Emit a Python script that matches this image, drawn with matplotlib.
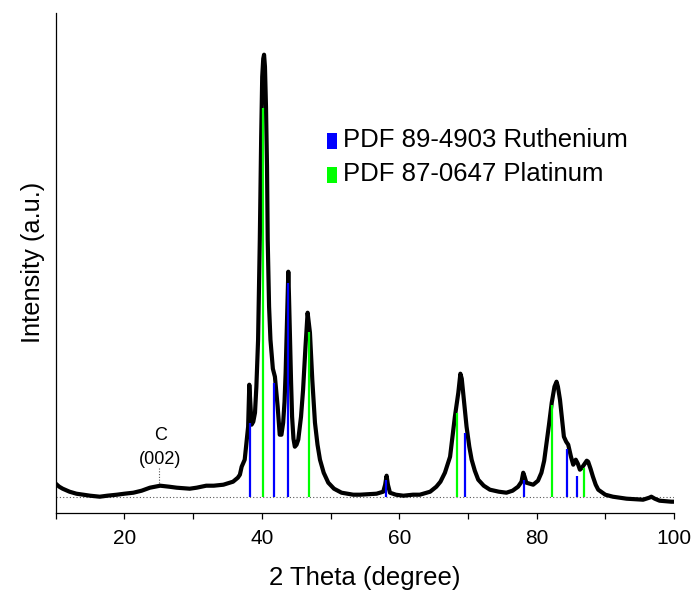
import matplotlib
matplotlib.use("Agg")
import matplotlib.pyplot as plt
from matplotlib.patches import Rectangle

plt.rcParams['font.family'] = ['Liberation Sans', 'DejaVu Sans']

# XRD pattern (2 theta in degree, intensity in a.u. relative to baseline)
two_theta = [10.0, 10.5, 11.0, 12.0, 13.0, 14.0, 15.0, 16.4, 17.5, 18.9, 20.0, 21.3, 22.5, 23.7,
             25.2, 26.5, 27.6, 29.5, 30.5, 31.9, 33.0, 34.4, 35.8, 36.5, 36.8, 37.06, 37.5, 37.8,
             38.0, 38.17, 38.35, 38.5, 38.75, 39.0, 39.2, 39.45, 39.7, 39.9, 40.05, 40.2, 40.32,
             40.45, 40.6, 40.75, 40.85, 41.05, 41.25, 41.6, 41.9, 42.1, 42.3, 42.6, 42.85, 43.1,
             43.3, 43.46, 43.65, 43.85, 43.95, 44.1, 44.25, 44.4, 44.6, 44.8, 45.05, 45.3, 45.7,
             46.0, 46.35, 46.66, 47.0, 47.34, 47.73, 48.1, 48.46, 49.0, 49.67, 50.5, 51.6, 53.3,
             54.3, 56.7, 57.67, 57.95, 58.16, 58.35, 58.65, 59.5, 60.6, 62.0, 63.0, 64.5, 65.4,
             66.0, 66.65, 67.4, 68.1, 68.6, 68.9, 69.1, 69.3, 69.8, 70.2, 70.54, 71.0, 71.5, 72.3,
             73.2, 74.5, 75.6, 76.5, 77.3, 77.8, 78.05, 78.25, 78.5, 79.5, 80.2, 80.7, 81.1, 81.45,
             81.8, 82.2, 82.6, 82.9, 83.1, 83.4, 83.7, 83.97, 84.3, 84.6, 85.0, 85.33, 85.7, 86.0,
             86.3, 86.6, 86.9, 87.3, 87.5, 87.85, 88.2, 88.6, 88.97, 90.0, 91.1, 93.1, 95.5, 96.4,
             96.7, 97.2, 97.9, 99.6, 100.0]
intensity = [13, 10, 8, 5, 3, 2, 1, 0, 1, 2, 3, 4, 6, 9,
             11, 10, 9, 8, 9, 11, 11, 12, 15, 19, 22, 30, 37, 57,
             70, 112, 90, 72, 75, 84, 110, 157, 257, 360, 420, 438, 442,
             430, 390, 330, 257, 190, 157, 128, 120, 105, 90, 62, 62, 74,
             95, 124, 175, 225, 200, 157, 115, 80, 58, 50, 52, 57, 80,
             107, 150, 184, 164, 117, 74, 52, 37, 24, 14, 8, 4, 2,
             2, 3, 5, 12, 21, 12, 4, 2, 1, 2, 2, 5, 10,
             15, 24, 40, 80, 104, 123, 118, 104, 70, 50, 37, 26, 17, 11,
             7, 5, 4, 6, 10, 15, 24, 20, 14, 12, 16, 24, 36, 54,
             72, 94, 110, 115, 110, 97, 78, 60, 55, 52, 40, 32, 37, 33,
             27, 29, 32, 36, 35, 28, 20, 12, 7, 2, 0, -2, -3, -1,
             0, -2, -4, -5, -5]

# Reference patterns (stick positions and heights)
ru_pos = [38.27, 41.8, 43.75, 58.06, 69.56, 78.15, 84.4, 85.86]
ru_height = [74, 114, 214, 17, 64, 17, 48, 21]
pt_pos = [40.11, 46.8, 68.35, 82.3, 86.93]
pt_height = [389, 165, 84, 92, 29]

legend_labels = ["PDF 89-4903 Ruthenium", "PDF 87-0647 Platinum"]
legend_colors = ["#0000FF", "#00FF00"]

x_ticks = [20, 40, 60, 80, 100]
x_minor = [10, 30, 50, 70, 90]

fig = plt.figure(figsize=(6.91, 5.90), dpi=100)
ax = fig.add_axes([55.8 / 691, 1 - 512.7 / 590, 618.2 / 691, 499.7 / 590])

# baseline
ax.plot([10, 100], [0, 0], color="#555555", lw=0.8, ls=(0, (1, 2)), zorder=1)

# pattern
ax.plot(two_theta, intensity, color="black", lw=3.0, zorder=2, solid_joinstyle="round")

# sticks
ax.vlines(ru_pos, 0, ru_height, colors="#0000FF", lw=1.6, zorder=3)
ax.vlines(pt_pos, 0, pt_height, colors="#00FF00", lw=1.6, zorder=3)

# C(002) annotation
ax.plot([25.05, 25.05], [14, 29], color="#555555", lw=0.8, ls=(0, (1, 1.5)), zorder=1)
ax.text(25.2, 37, "(002)", ha="center", va="center", fontsize=13)
ax.text(25.2, 61, "C", ha="center", va="center", fontsize=13)

# legend (manual)
lx_box = 0.4387
lx_txt = 0.4646
for lab, col, yb in zip(legend_labels, legend_colors, [0.7309, 0.6644]):
    ax.add_patch(Rectangle((lx_box, yb - 0.004), 0.0162, 0.032, transform=ax.transAxes,
                           facecolor=col, edgecolor="none", clip_on=False))
    ax.text(lx_txt, yb, lab, transform=ax.transAxes, ha="left", va="baseline", fontsize=18.5)

ax.set_xlim(10, 100)
ax.set_ylim(-16, 483.7)
ax.set_xticks(x_ticks)
ax.set_xticks(x_minor, minor=True)
ax.set_yticks([])
ax.tick_params(axis="x", which="both", direction="out", length=4.5, width=0.9,
               labelsize=15, pad=7)
for s in ["top", "right"]:
    ax.spines[s].set_visible(False)
for s in ["left", "bottom"]:
    ax.spines[s].set_linewidth(0.9)

ax.set_xlabel("2 Theta (degree)", fontsize=18.5, labelpad=13)
ax.set_ylabel("Intensity (a.u.)", fontsize=18.3, labelpad=8)

fig.savefig("out.png", dpi=100)
